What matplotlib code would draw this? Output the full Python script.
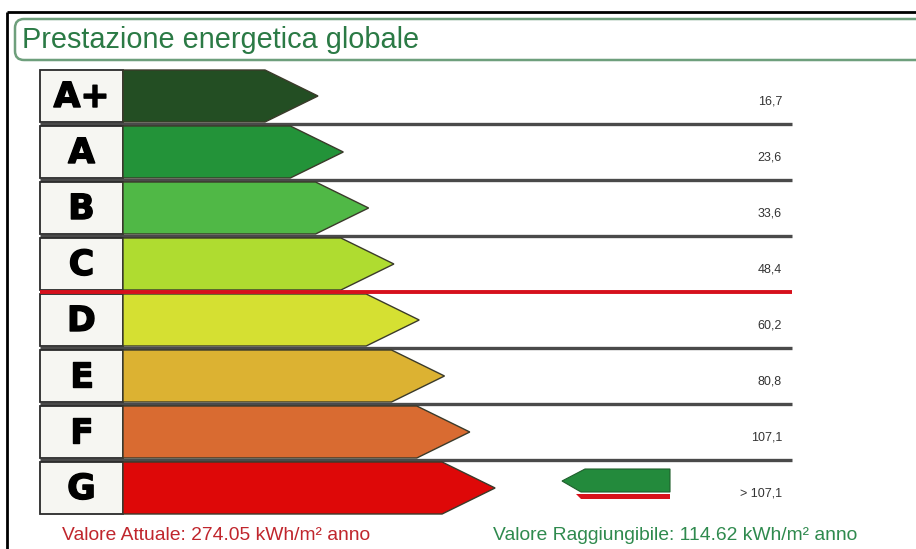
import matplotlib
matplotlib.use("Agg")
import matplotlib.pyplot as plt
from matplotlib.patches import Polygon, Rectangle, FancyBboxPatch
import matplotlib.patheffects as pe

# ---- data ----
classes = ["A+", "A", "B", "C", "D", "E", "F", "G"]
class_colors = ["#234e23", "#239339", "#50b846", "#afdc30", "#d5e032",
                "#dcb232", "#d96b31", "#de0808"]
threshold_labels = ["16,7", "23,6", "33,6", "48,4", "60,2", "80,8", "107,1", "> 107,1"]
title = "Prestazione energetica globale"
current_label = "Valore Attuale: 274.05 kWh/m\u00b2 anno"
target_label = "Valore Raggiungibile: 114.62 kWh/m\u00b2 anno"
current_class = "G"
target_class_limit = "C"   # red reference line under this class

W, H = 916, 549
fig = plt.figure(figsize=(W / 100, H / 100), dpi=100)
ax = fig.add_axes([0, 0, 1, 1])
ax.set_xlim(0, W)
ax.set_ylim(H, 0)
ax.axis("off")

# outer frame
ax.plot([7, W], [12, 12], color="black", lw=2, solid_capstyle="butt")
ax.plot([7, 7], [12, H], color="black", lw=2, solid_capstyle="butt")

# title box
tb = FancyBboxPatch((15, 19), W + 20, 41, boxstyle="round,pad=0,rounding_size=9",
                    fc="white", ec="#6e9f7c", lw=1.8)
ax.add_patch(tb)
ax.text(22, 40, title, fontsize=20.8, color="#2b7a45", family="Liberation Sans",
        va="center", ha="left")

row_top0, pitch, row_h = 70, 56.0, 52
box_l, box_r = 40, 123
line_r = 792
tip0, tip_step, head = 318, 25.3, 53

for i, (cls, col, lab) in enumerate(zip(classes, class_colors, threshold_labels)):
    top = row_top0 + pitch * i
    bot = top + row_h
    mid = (top + bot) / 2
    # letter box
    ax.add_patch(Rectangle((box_l, top), box_r - box_l, row_h, fc="#f6f6f2",
                           ec="#2a2a2a", lw=1.3, zorder=3))
    ax.text((box_l + box_r) / 2, mid + 1, cls, fontsize=25, fontweight="bold",
            family="DejaVu Sans", ha="center", va="center", color="black", zorder=4,
            path_effects=[pe.withStroke(linewidth=1.0, foreground="black")])
    # arrow
    tip = tip0 + tip_step * i
    body = tip - head
    pts = [(box_r, top), (body, top), (tip, mid), (body, bot), (box_r, bot)]
    ax.add_patch(Polygon(pts, closed=True, fc=col, ec="#3a3a2a", lw=1.0, zorder=3))
    # threshold value
    ax.text(782, bot - 20, lab, fontsize=9, color="#333333", ha="right",
            va="center", family="Liberation Sans", zorder=4)
    # separator line
    if i < len(classes) - 1:
        sep_y = bot + 2
        if cls == target_class_limit:
            ax.plot([box_l, line_r], [sep_y, sep_y], color="#d6101c", lw=2.8,
                    solid_capstyle="butt", zorder=5)
        else:
            ax.plot([box_l, line_r], [sep_y, sep_y], color="#4a4a4a", lw=2.4,
                    solid_capstyle="butt", zorder=2)

# indicator arrow in current class row
ci = classes.index(current_class)
ctop = row_top0 + pitch * ci
gx_r, gx_l, g_tip = 670, 585, 562
g_top, g_bot = ctop + 7, ctop + 30
g_mid = (g_top + g_bot) / 2 + 0.5
ax.add_patch(Polygon([(gx_r, g_top), (gx_l, g_top), (g_tip, g_mid), (gx_l - 4, g_bot),
                      (gx_r, g_bot)], closed=True, fc="#238a3c", ec="#1f5f2c",
                     lw=0.8, zorder=4))
ax.add_patch(Polygon([(gx_r, g_bot + 2), (576, g_bot + 2), (581, g_bot + 7),
                      (gx_r, g_bot + 7)], closed=True, fc="#d8121b", ec="none",
                     zorder=4))

# bottom labels
ax.text(62, 536, current_label, fontsize=13.9, color="#c0262d", ha="left",
        va="center", family="Liberation Sans")
ax.text(493, 536, target_label, fontsize=13.9, color="#2f8a4e", ha="left",
        va="center", family="Liberation Sans")

fig.savefig("out.png", dpi=100, facecolor="white")
